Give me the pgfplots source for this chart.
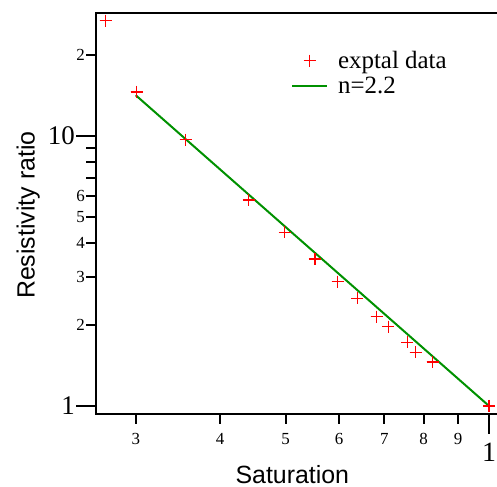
\documentclass[border=0pt]{standalone}
\usepackage{fontspec}
\setmainfont{Liberation Serif}
\newfontfamily\labelfont{Liberation Sans}
\usepackage{pgfplots}
\pgfplotsset{compat=1.18}
\usetikzlibrary{calc}

\definecolor{fitgreen}{RGB}{0,145,0}
\definecolor{markred}{RGB}{255,0,0}

\begin{document}
\begin{tikzpicture}
\begin{axis}[
  xmode=log, ymode=log,
  scale only axis,
  width=404bp, height=401bp,
  xmin=0.262, xmax=1.038,
  ymin=0.934, ymax=28.5,
  axis line style={line width=2bp},
  every tick/.style={black, line width=2bp},
  tick align=outside,
  xtick pos=bottom, ytick pos=left,
  major tick length=10bp,
  minor tick length=10bp,
  xtick={0.3,0.4,0.5,0.6,0.7,0.8,0.9,1},
  xticklabels={3,4,5,6,7,8,9,{\rule{0pt}{28bp}\fontsize{28}{30}\selectfont 1}},
  minor xtick={},
  ytick={2,3,4,5,6,20},
  yticklabels={2,3,4,5,6,2},
  minor ytick={7,8,9},
  extra x ticks={1},
  extra x tick labels={},
  extra y ticks={1,10},
  extra y tick labels={1,10},
  extra x tick style={major tick length=20bp},
  extra y tick style={major tick length=20bp,
    tick label style={font=\fontsize{27}{30}\selectfont}},
  /pgf/number format/assume math mode=true,
  tick label style={font=\fontsize{17}{19}\selectfont},
  xticklabel style={inner ysep=9.5bp},
  yticklabel style={inner xsep=1bp},
  xlabel={Saturation},
  ylabel={Resistivity ratio},
  xlabel style={font=\labelfont\fontsize{25}{28}\selectfont,
    at={(axis description cs:0.486,-0.150)}, anchor=center},
  ylabel style={font=\labelfont\fontsize{25}{28}\selectfont,
    at={(axis description cs:-0.168,0.496)}, anchor=center, rotate=0},
  legend style={draw=none, fill=none, at={(axis description cs:0.475,0.915)},
    anchor=north west, font=\fontsize{25}{28}\selectfont, row sep=3bp,
    /tikz/every odd column/.append style={column sep=8bp}},
  legend cell align=left,
  legend image code/.code={%
    \draw[mark repeat=2,mark phase=2,#1] plot coordinates {(0bp,0bp) (17.5bp,0bp) (35bp,0bp)};},
]
\addplot[only marks, mark=+, mark size=6bp, color=markred,
  mark options={draw=markred, line width=1.3bp}]
  coordinates {
  (0.2708,26.7) (0.301,14.55) (0.3557,9.67) (0.4410,5.79) (0.4985,4.40)
  (0.5525,3.50) (0.5969,2.887) (0.638,2.505) (0.6819,2.142) (0.7095,1.967)
  (0.7568,1.721) (0.7786,1.58) (0.825,1.455) (1.0,1.0)};
\addlegendentry{exptal data}
\addplot[fitgreen, line width=2bp, no marks]
  coordinates {(0.3,14.14) (1.0,1.0)};
\addlegendentry{n=2.2}
% markers again so that they lie above the line
\addplot[only marks, mark=+, mark size=6bp, color=markred, forget plot,
  mark options={draw=markred, line width=1.3bp}]
  coordinates {
  (0.2708,26.7) (0.301,14.55) (0.3557,9.67) (0.4410,5.79) (0.4985,4.40)
  (0.5525,3.50) (0.5969,2.887) (0.638,2.505) (0.6819,2.142) (0.7095,1.967)
  (0.7568,1.721) (0.7786,1.58) (0.825,1.455) (1.0,1.0)};
\coordinate (sw) at (rel axis cs:0,0);
\coordinate (ne) at (rel axis cs:1,1);
\end{axis}
\pgfresetboundingbox
\path[use as bounding box] ($(sw)+(-96bp,-73bp)$) rectangle ($(ne)+(-3bp,13bp)$);
\end{tikzpicture}
\end{document}
